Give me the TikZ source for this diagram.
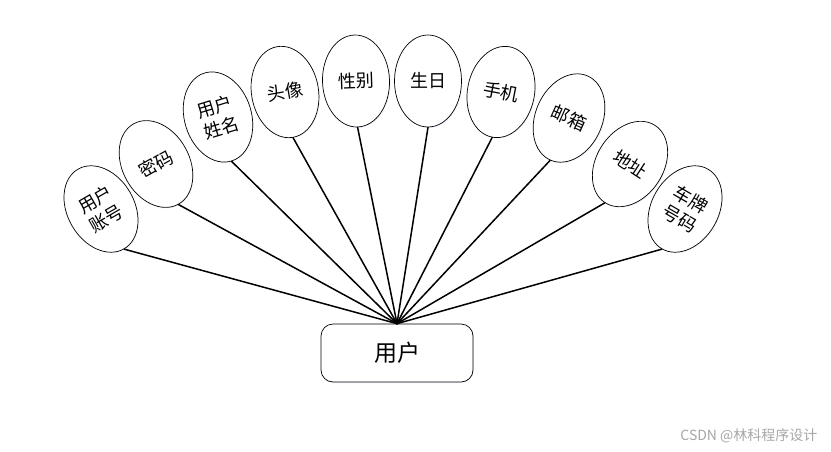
\documentclass[tikz,border=0pt]{standalone}
\usepackage{fontspec}
\newfontfamily\cjk{Noto Sans CJK SC}
\usetikzlibrary{shapes.geometric,shadows}
\begin{document}
\begin{tikzpicture}[x=1pt,y=-1pt,
  attr/.style={ellipse, draw=black, line width=0.7pt, fill=white,
    minimum width=67pt, minimum height=92pt, inner sep=0pt, align=center,
    font=\cjk\fontsize{18}{22}\selectfont,
    drop shadow={shadow xshift=1pt, shadow yshift=-1pt, fill=blue!6!white, opacity=0.8}},
  link/.style={line width=1.5pt, line cap=round},
  entity/.style={rectangle, rounded corners=12pt, draw=black, line width=0.7pt, fill=white,
    minimum width=152pt, minimum height=58pt, font=\cjk\fontsize{23}{27}\selectfont,
    drop shadow={shadow xshift=1pt, shadow yshift=-1pt, fill=blue!6!white, opacity=0.8}},
  wmark/.style={font=\cjk\fontsize{14}{16}\selectfont, text=black!35}]
\useasboundingbox (0,0) rectangle (831,451);
\node[entity] (u) at (397,353) {用户};
\node[attr, rotate=30]  (a1)  at (101,209) {用户\\账号};
\node[attr, rotate=29]  (a2)  at (156,164) {密码};
\node[attr, rotate=17]  (a3)  at (218,117) {用户\\姓名};
\node[attr, rotate=10]  (a4)  at (285,92)  {头像};
\node[attr, rotate=2]   (a5)  at (356,81)  {性别};
\node[attr, rotate=0]   (a6)  at (428,81)  {生日};
\node[attr, rotate=-11] (a7)  at (501,92)  {手机};
\node[attr, rotate=-24] (a8)  at (569,118) {邮箱};
\node[attr, rotate=-33] (a9)  at (630,164) {地址};
\node[attr, rotate=-30] (a10) at (685,209) {车牌\\号码};
\foreach \i in {1,...,10} {\draw[link] (u.north) -- (a\i.south);}
\node[wmark, anchor=east] (wm) at (821,436) {CSDN @林科程序设计};
\end{tikzpicture}
\end{document}
